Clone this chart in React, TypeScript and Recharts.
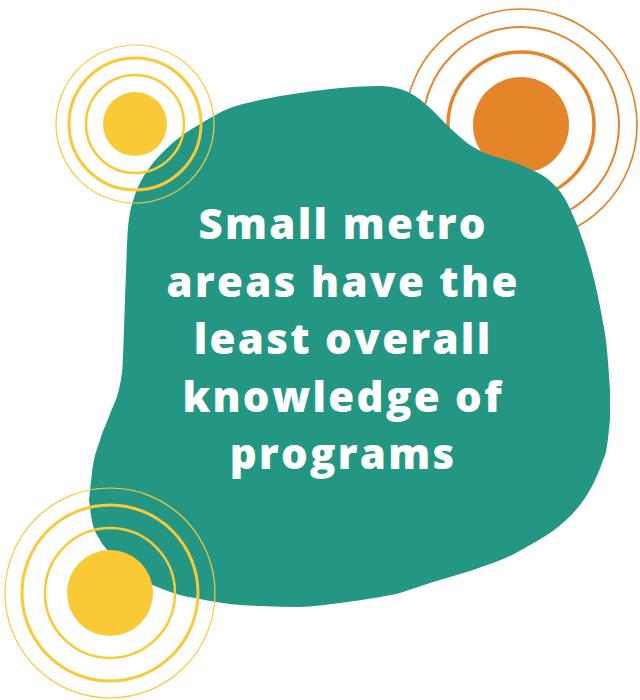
import { AreaChart, Area, ScatterChart, Scatter, XAxis, YAxis } from "recharts";

const W = 640;
const H = 700;
const PX = W / 640; // one data unit per pixel

const TEAL = "#249784";
const YELLOW = "#F9C936";
const ORANGE = "#E5852A";

// blob outline: x, upper edge, lower edge
const blobX = [89, 92, 100, 110, 122, 125, 128, 135, 140, 150, 165, 180, 200, 230, 260, 300, 340, 380, 400, 415, 430, 450, 470, 490, 510, 530, 550, 565, 575, 585, 595, 602, 607, 610];
const blobTop = [500, 473, 440, 414, 373, 300, 228, 195, 183, 167, 150, 137, 124, 108, 100, 93, 88, 86, 89, 96, 108, 128, 145, 155, 161, 169, 181, 199, 220, 247, 283, 317, 350, 390];
const blobBottom = [500, 521, 540, 553, 566, 569, 571, 577, 580, 584, 590, 595, 599, 604, 606, 607, 603, 597, 593, 588, 583, 577, 571, 564, 556, 545, 533, 521, 511, 498, 480, 463, 446, 420];

const yellowSpots = [
  { x: 135, y: 124, r: 32 },
  { x: 110, y: 593, r: 43 },
];
const yellowRings = [
  { x: 135, y: 124, r: 49, ring: 0 },
  { x: 135, y: 124, r: 66, ring: 1 },
  { x: 135, y: 124, r: 79, ring: 2 },
  { x: 110, y: 593, r: 65, ring: 0 },
  { x: 110, y: 593, r: 88, ring: 1 },
  { x: 110, y: 593, r: 105, ring: 2 },
];
const orangeSpots = [{ x: 521, y: 125, r: 48 }];
const orangeRings = [
  { x: 521, y: 125, r: 73, ring: 0 },
  { x: 521, y: 125, r: 98, ring: 1 },
  { x: 521, y: 125, r: 116, ring: 2 },
];

const headline = ["Small metro", "areas have the", "least overall", "knowledge of", "programs"];

const YELLOW_RING_W = [2.5, 3, 1.2];
const ORANGE_RING_W = [3.5, 2, 1.7];

const blobData = blobX.map((x, i) => ({ x, edge: [blobTop[i], blobBottom[i]] }));

const layer: React.CSSProperties = { position: "absolute", left: 0, top: 0 };
const margin = { top: 0, right: 0, bottom: 0, left: 0 };

const axes = [
  <XAxis key="x" type="number" dataKey="x" domain={[0, W]} hide allowDataOverflow />,
  <YAxis key="y" type="number" dataKey="y" domain={[0, H]} reversed hide allowDataOverflow />,
];

const spot = (color: string) => (p: any) =>
  <circle cx={p.cx} cy={p.cy} r={p.payload.r * PX} fill={color} />;

const ring = (color: string, widths: number[]) => (p: any) =>
  <circle cx={p.cx} cy={p.cy} r={p.payload.r * PX} fill="none" stroke={color} strokeWidth={widths[p.payload.ring]} />;

export default function App() {
  return (
    <div style={{ position: "absolute", left: 0, top: 0, width: W, height: H, background: "#fff", overflow: "hidden" }}>
      {/* orange sits behind the blob */}
      <div style={layer}>
        <ScatterChart width={W} height={H} margin={margin}>
          {axes}
          <Scatter data={orangeRings} isAnimationActive={false} shape={ring(ORANGE, ORANGE_RING_W)} />
          <Scatter data={orangeSpots} isAnimationActive={false} shape={spot(ORANGE)} />
        </ScatterChart>
      </div>

      {/* blob */}
      <div style={layer}>
        <AreaChart width={W} height={H} data={blobData} margin={margin}>
          <XAxis type="number" dataKey="x" domain={[0, W]} hide allowDataOverflow />
          <YAxis type="number" domain={[0, H]} reversed hide allowDataOverflow />
          <Area dataKey="edge" type="monotone" stroke="none" fill={TEAL} fillOpacity={1} isAnimationActive={false} />
        </AreaChart>
      </div>

      {/* yellow on top */}
      <div style={layer}>
        <ScatterChart width={W} height={H} margin={margin}>
          {axes}
          <Scatter data={yellowSpots} isAnimationActive={false} shape={spot(YELLOW)} />
          <Scatter data={yellowRings} isAnimationActive={false} shape={ring(YELLOW, YELLOW_RING_W)} />
        </ScatterChart>
      </div>

      <div
        style={{
          position: "absolute", left: 142, top: 194, width: 400, textAlign: "center",
          color: "#fff", fontFamily: "'Open Sans', sans-serif", fontWeight: 800,
          fontSize: 42, lineHeight: "57.5px", letterSpacing: 2.3, paddingLeft: 2.3, boxSizing: "border-box",
        }}
      >
        {headline.map((l) => <div key={l}>{l}</div>)}
      </div>
    </div>
  );
}
